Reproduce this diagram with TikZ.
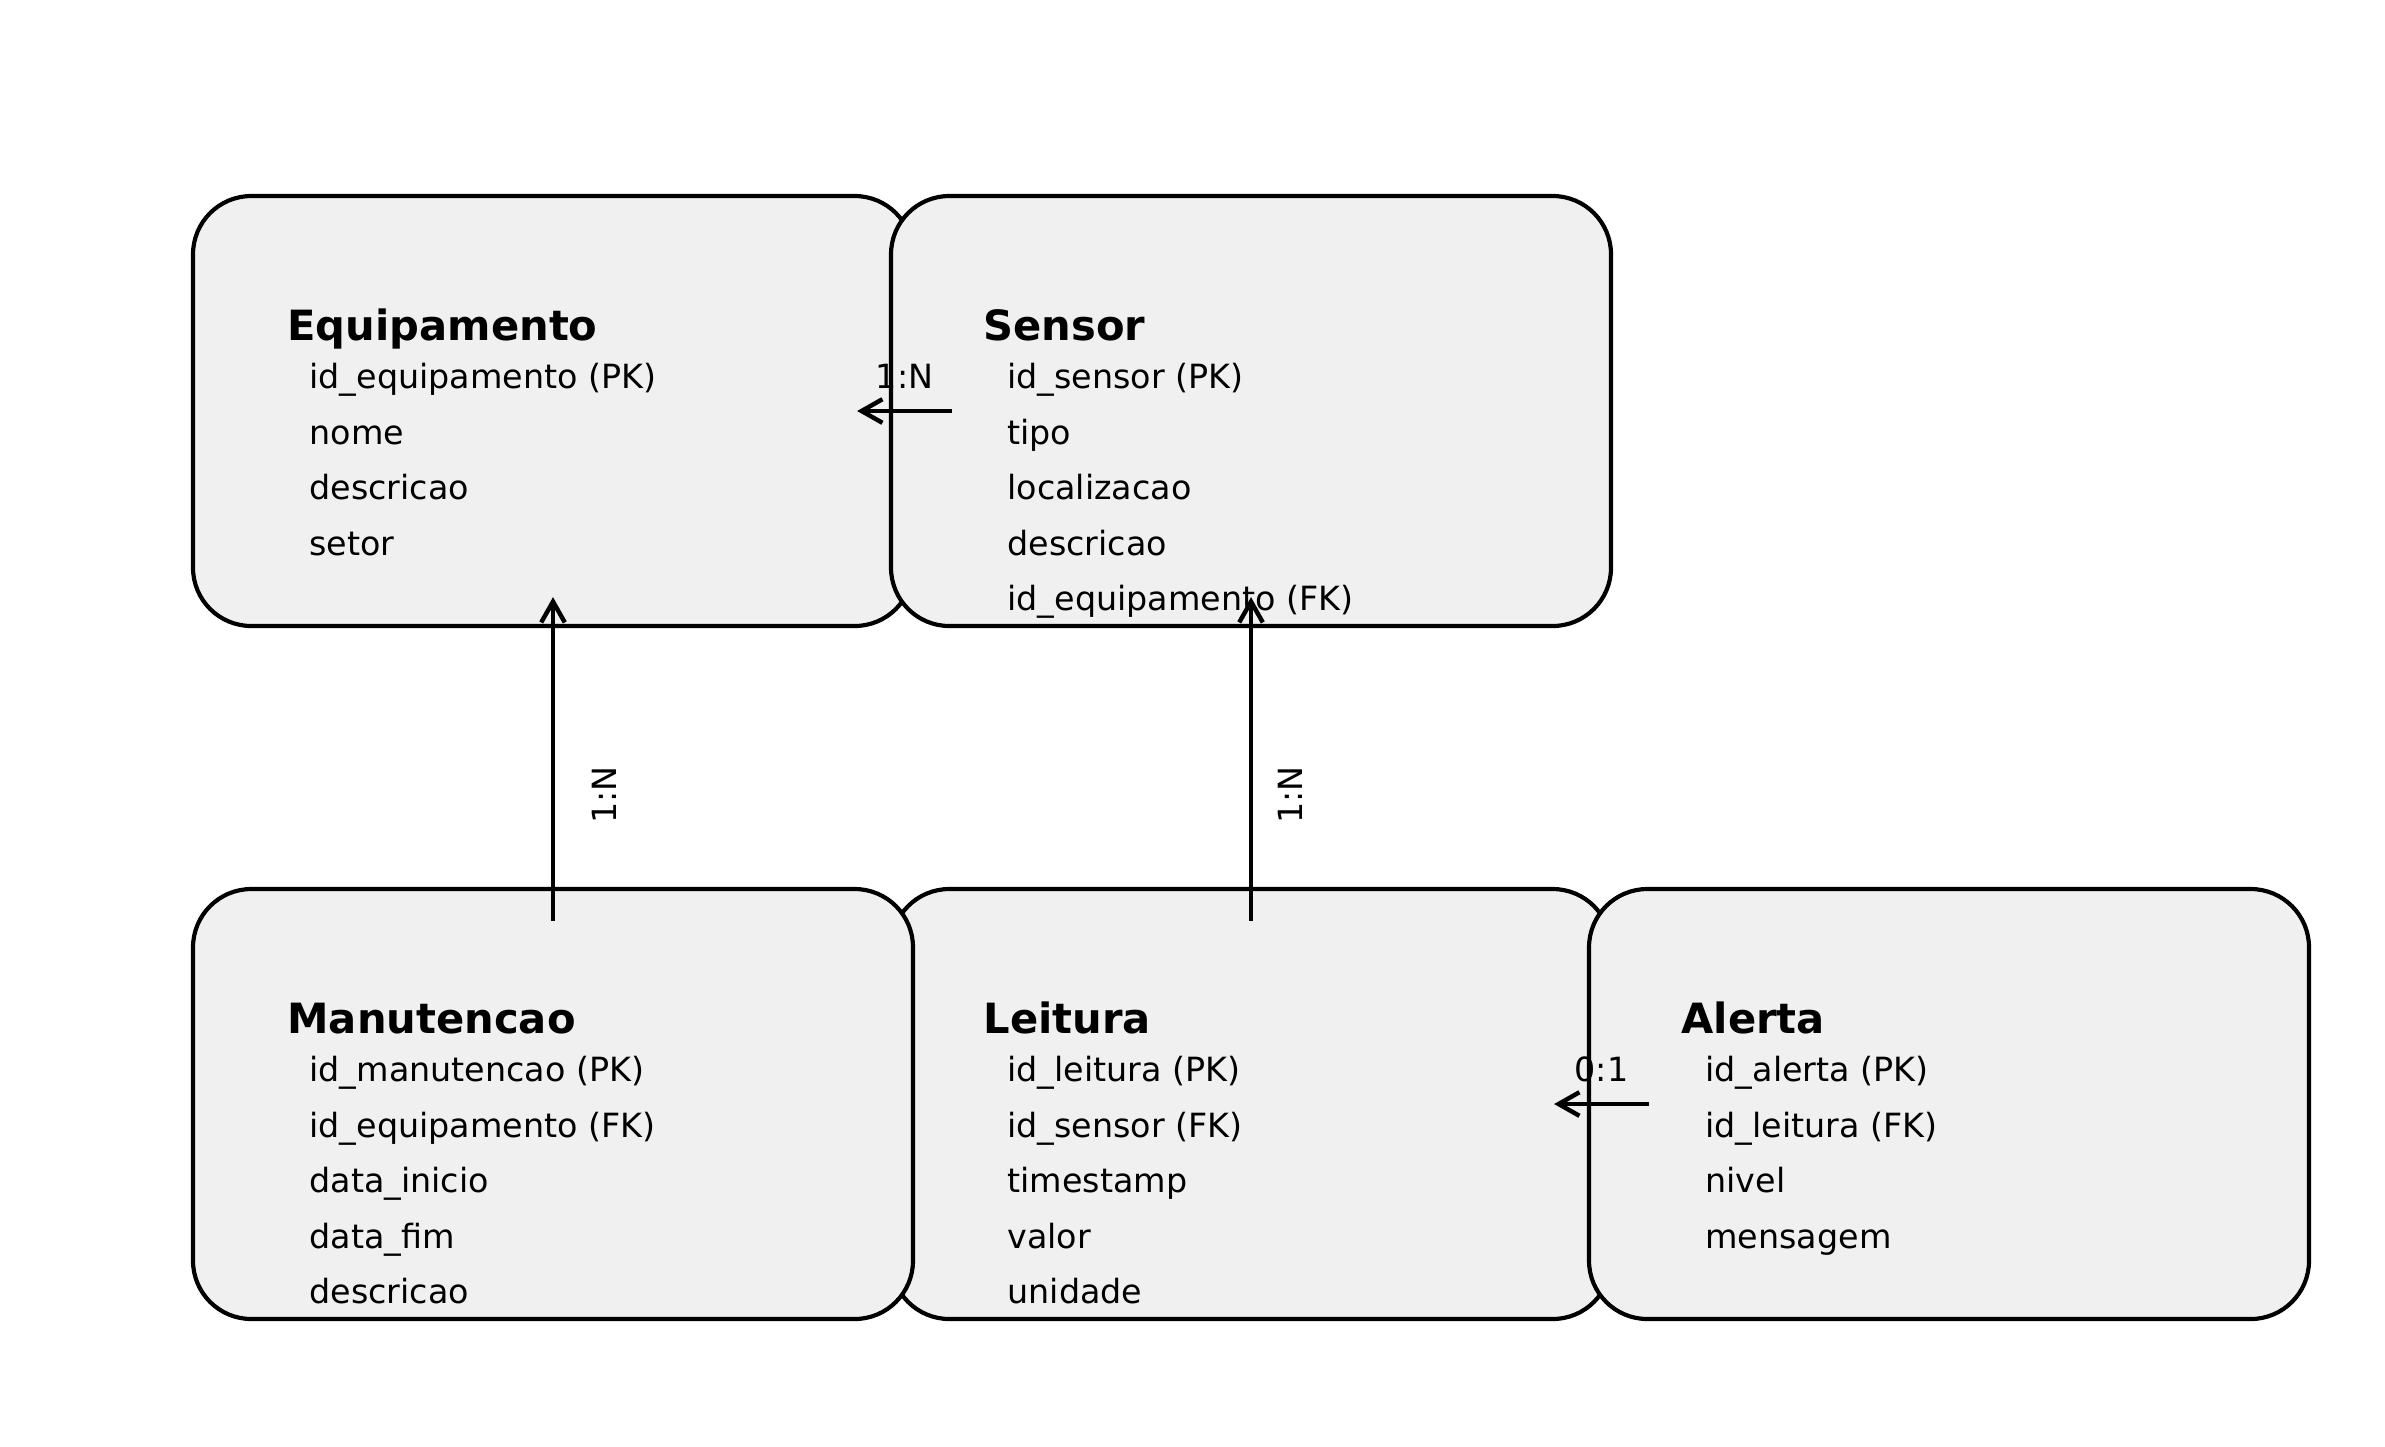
\documentclass[tikz,border=0pt]{standalone}
\usepackage{fontspec}
\setmainfont{DejaVu Sans}
\usetikzlibrary{arrows.meta,calc}

\definecolor{boxgray}{HTML}{F0F0F0}

\tikzset{
  entity/.style={draw=black, line width=1.5pt, fill=boxgray, rounded corners=21pt,
    minimum width=259.2pt, minimum height=154.8pt, inner sep=0pt},
  title/.style={anchor=base west, inner sep=0pt, font=\fontsize{15}{18}\selectfont\bfseries},
  attr/.style={anchor=base west, inner sep=0pt, font=\fontsize{12}{14}\selectfont},
  rel/.style={-{Straight Barb[length=7.5pt,width=8.5pt]}, line width=1.6pt},
  card/.style={inner sep=0pt, font=\fontsize{12}{14}\selectfont},
}

\begin{document}
\begin{tikzpicture}[x=0.36pt,y=-0.36pt]
  \useasboundingbox[fill=white] (0,0) rectangle (2385,1446);

  % entities
  \node[entity] (equip)   at (553,411)  {};
  \node[entity] (sensor)  at (1251,411) {};
  \node[entity] (leitura) at (1251,1104) {};
  \node[entity] (manut)   at (553,1104) {};
  \node[entity] (alerta)  at (1949,1104) {};

  % titles
  \node[title] (equipT)   at ($(equip.north west)+(96,147)$)   {Equipamento};
  \node[title] (sensorT)  at ($(sensor.north west)+(94,147)$)  {Sensor};
  \node[title] (manutT)   at ($(manut.north west)+(96,147)$)   {Manutencao};
  \node[title] (leituraT) at ($(leitura.north west)+(94,147)$) {Leitura};
  \node[title] (alertaT)  at ($(alerta.north west)+(94,147)$)  {Alerta};

  % attributes
  \foreach \a [count=\i from 0] in {id\_equipamento (PK), nome, descricao, setor}
    \node[attr] (equipA\i) at ($(equip.north west)+(118,{195+55.5*\i})$) {\a};
  \foreach \a [count=\i from 0] in {id\_sensor (PK), tipo, localizacao, descricao, id\_equipamento (FK)}
    \node[attr] (sensorA\i) at ($(sensor.north west)+(118,{195+55.5*\i})$) {\a};
  \foreach \a [count=\i from 0] in {id\_manutencao (PK), id\_equipamento (FK), data\_inicio, data\_fim, descricao}
    \node[attr] (manutA\i) at ($(manut.north west)+(118,{195+55.5*\i})$) {\a};
  \foreach \a [count=\i from 0] in {id\_leitura (PK), id\_sensor (FK), timestamp, valor, unidade}
    \node[attr] (leituraA\i) at ($(leitura.north west)+(118,{195+55.5*\i})$) {\a};
  \foreach \a [count=\i from 0] in {id\_alerta (PK), id\_leitura (FK), nivel, mensagem}
    \node[attr] (alertaA\i) at ($(alerta.north west)+(118,{195+55.5*\i})$) {\a};

  % relations
  \coordinate (se1) at ($(sensor.west)+(63,0)$);
  \coordinate (se2) at ($(equip.east)+(-58,0)$);
  \draw[rel] (se1) -- (se2) node[card, midway, above=7.2pt] (seC) {1:N};

  \coordinate (me1) at ($(manut.north)+(0,34)$);
  \coordinate (me2) at ($(equip.south)+(0,-31)$);
  \draw[rel] (me1) -- (me2);
  \node[card, rotate=90] (meC) at ($(manut.north)+(51,-92)$) {1:N};

  \coordinate (ls1) at ($(leitura.north)+(0,34)$);
  \coordinate (ls2) at ($(sensor.south)+(0,-31)$);
  \draw[rel] (ls1) -- (ls2);
  \node[card, rotate=90] (lsC) at ($(leitura.north)+(39,-92)$) {1:N};

  \coordinate (al1) at ($(alerta.west)+(62,0)$);
  \coordinate (al2) at ($(leitura.east)+(-59,0)$);
  \draw[rel] (al1) -- (al2) node[card, midway, above=7.2pt] (alC) {0:1};
\end{tikzpicture}
\end{document}
